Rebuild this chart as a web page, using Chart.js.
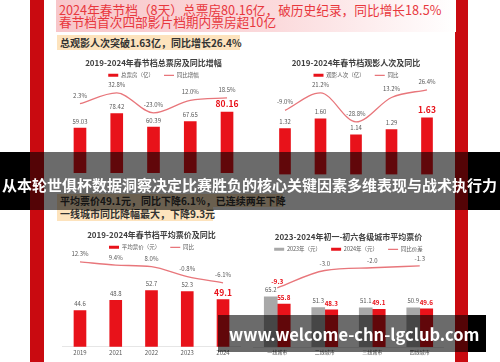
<!DOCTYPE html>
<html>
<head>
<meta charset="utf-8">
<script src="https://cdn.jsdelivr.net/npm/chart.js@4"></script>
<style>
  html, body { margin: 0; padding: 0; background: #fff; }
  body { width: 500px; height: 362px; position: relative; overflow: hidden; font-family: 'Noto Sans CJK SC', sans-serif; }
  .abs { position: absolute; white-space: nowrap; }
  .side { position: absolute; top: 0; height: 362px; background: #c90a10; }
  .box { position: absolute; }
  .hl { background: #fde3bd; color: #333; font-weight: bold; font-size: 10px; padding-left: 3px; box-sizing: border-box; }
  .band { position: absolute; z-index: 10; }
</style>
</head>
<body>
<div class="side" style="left:30px;width:14px;"></div>
<div class="side" style="left:455px;width:13px;"></div>

<div class="box" style="left:56px;top:0;width:400px;height:32px;background:linear-gradient(90deg,#f8c6ca 0%,#fbdadc 55%,#ffffff 100%);"></div>
<div class="abs" style="left:59px;top:4px;font-size:12.7px;line-height:12.4px;color:#e8373d;">2024年春节档（8天）总票房80.16亿，破历史纪录，同比增长18.5%<br>春节档首次四部影片档期内票房超10亿</div>
<div class="abs hl" style="left:57px;top:35px;width:183px;height:15px;line-height:15px;">总观影人次突破1.63亿，同比增长26.4%</div>

<div class="abs hl" style="left:57px;top:194px;width:226px;height:13px;line-height:13px;">平均票价49.1元，同比下降6.1%，已连续两年下降</div>
<div class="abs hl" style="left:57px;top:207px;width:156px;height:14px;line-height:14px;">一线城市同比降幅最大，下降9.3元</div>

<div class="box" style="left:52px;top:56px;width:204px;height:117px;"><canvas id="chartBox"></canvas></div>
<div class="box" style="left:257px;top:56px;width:198px;height:119px;"><canvas id="chartAdm"></canvas></div>
<div class="box" style="left:52px;top:228px;width:199px;height:130px;"><canvas id="chartPrice"></canvas></div>
<div class="box" style="left:243px;top:230px;width:211px;height:127px;"><canvas id="chartCity"></canvas></div>

<div class="band" style="left:0;top:152px;width:30px;height:58px;background:#000;"></div>
<div class="band" style="left:30px;top:152px;width:438px;height:58px;background:rgba(0,0,0,0.58);"></div>
<div class="band" style="left:468px;top:152px;width:32px;height:58px;background:#000;"></div>
<div class="band abs" style="left:2px;top:176px;font-size:15px;line-height:17px;font-weight:bold;color:#fff;">从本轮世俱杯数据洞察决定比赛胜负的核心关键因素多维表现与战术执行力</div>

<div class="band" style="left:218px;top:315px;width:250px;height:37px;background:rgba(0,0,0,0.58);"></div>
<div class="band" style="left:468px;top:315px;width:18px;height:37px;background:#000;"></div>
<div class="band abs" style="left:229px;top:324px;font-size:16.5px;line-height:20px;font-weight:bold;color:#fff;">www.welcome-chn-lgclub.com</div>

<script>
'use strict';

// Data
const years = ['2019', '2021', '2022', '2023', '2024'];
const boxOffice = [59.03, 78.42, 60.39, 67.65, 80.16];
const boxOfficeGrowth = [2.3, 32.8, -23.0, 12.0, 18.5];
const admissions = [1.32, 1.60, 1.14, 1.29, 1.63];
const admissionsGrowth = [-9.0, 21.2, -28.8, 13.2, 26.4];
const avgPrice = [44.6, 48.8, 52.7, 52.3, 49.1];
const avgPriceGrowth = [12.3, 9.4, 8.0, -0.8, -6.1];
const cityTiers = ['一线城市', '二线城市', '三线城市', '四线城市'];
const price2023 = [65.2, 51.3, 51.1, 50.9];
const price2024 = [55.8, 48.3, 49.1, 49.6];
const priceDiff = [-9.3, -3.0, -2.0, -1.3];

// Styles
const FONT = "'Noto Sans CJK SC', sans-serif";
const RED = '#e8121a';
const LINE_RED = '#e8767b';
const GREY_BAR = '#a8a8a8';
const TEXT = '#595959';

// Value labels over bars and points
const valueLabels = {
  id: 'valueLabels',
  afterDatasetsDraw(chart) {
    let ctx = chart.ctx;
    chart.data.datasets.forEach((ds, i) => {
      let meta = chart.getDatasetMeta(i);
      meta.data.forEach((el, j) => {
        let hot = ds.allHot || ds.hotIndex === j;
        let size = hot ? ds.hotSize : ds.labelSize;
        ctx.save();
        ctx.font = (hot ? 'bold ' : '') + size + 'px ' + FONT;
        ctx.fillStyle = hot ? RED : TEXT;
        ctx.textAlign = 'center';
        ctx.textBaseline = 'alphabetic';
        ctx.fillText(ds.fmt(ds.data[j]), el.x, el.y - (hot ? ds.hotGap : ds.labelGap));
        ctx.restore();
      });
    });
  }
};

function legendItems(chart) {
  let items = Chart.defaults.plugins.legend.labels.generateLabels(chart);
  items.forEach(item => {
    let ds = chart.data.datasets[item.datasetIndex];
    item.pointStyle = ds.type === 'line' ? 'line' : 'rect';
    if (ds.type === 'line') {
      item.strokeStyle = LINE_RED;
      item.lineWidth = 1.2;
    } else {
      item.lineWidth = 0;
    }
  });
  return items;
}

function makeOptions(title, pad, barRange, lineRange, xFont) {
  return {
    responsive: true,
    maintainAspectRatio: false,
    animation: false,
    layout: { padding: pad },
    plugins: {
      title: {
        display: true,
        text: title,
        color: '#404040',
        font: { family: FONT, size: 8, weight: 'bold', lineHeight: 1.2 },
        padding: { top: 2, bottom: -5 }
      },
      legend: {
        position: 'top',
        maxHeight: 22.2,
        labels: {
          color: TEXT,
          font: { family: FONT, size: 5.5 },
          usePointStyle: true,
          pointStyleWidth: 10,
          boxHeight: 3,
          padding: 10,
          generateLabels: legendItems
        }
      },
      tooltip: { enabled: false }
    },
    scales: {
      x: {
        display: xFont > 0,
        grid: { display: false, drawTicks: false },
        border: { display: true, color: '#e6e6e6', width: 1 },
        ticks: { color: TEXT, font: { family: FONT, size: xFont || 6 }, padding: 2 }
      },
      y: { display: false, min: barRange[0], max: barRange[1] },
      y1: { display: false, min: lineRange[0], max: lineRange[1] }
    }
  };
}

const pct = v => v.toFixed(1) + '%';

// 2019-2024 box office
new Chart(document.getElementById('chartBox'), {
  type: 'bar',
  data: {
    labels: years,
    datasets: [{
      label: '总票房（亿）', data: boxOffice, yAxisID: 'y',
      backgroundColor: RED, barThickness: 12,
      fmt: v => v.toFixed(2), labelSize: 6, labelGap: 4.5, hotIndex: 4, hotSize: 8.5, hotGap: 5.5
    }, {
      type: 'line', label: '同比增幅', data: boxOfficeGrowth, yAxisID: 'y1',
      borderColor: LINE_RED, backgroundColor: LINE_RED, borderWidth: 1.3, pointRadius: 0,
      cubicInterpolationMode: 'monotone',
      fmt: pct, labelSize: 6, labelGap: 6
    }]
  },
  options: makeOptions('2019-2024年春节档总票房及同比增幅', { left: 9.6, right: 10.6, top: 0, bottom: 0 }, [0, 116.2], [-190.7, 55.1], 0),
  plugins: [valueLabels]
});

// 2019-2024 admissions
new Chart(document.getElementById('chartAdm'), {
  type: 'bar',
  data: {
    labels: years,
    datasets: [{
      label: '观影人次（亿）', data: admissions, yAxisID: 'y',
      backgroundColor: RED, barThickness: 11,
      fmt: v => v.toFixed(2), labelSize: 6, labelGap: 4.5, hotIndex: 4, hotSize: 8.5, hotGap: 4.5
    }, {
      type: 'line', label: '同比', data: admissionsGrowth, yAxisID: 'y1',
      borderColor: LINE_RED, backgroundColor: LINE_RED, borderWidth: 1.3, pointRadius: 0,
      cubicInterpolationMode: 'monotone',
      fmt: pct, labelSize: 6, labelGap: 6
    }]
  },
  options: makeOptions('2019-2024年春节档观影人次及同比', { left: 10.25, right: 10.25, top: 0, bottom: 0.5 }, [0, 2.58], [-119.3, 35.0], 0),
  plugins: [valueLabels]
});

// 2019-2024 average ticket price
new Chart(document.getElementById('chartPrice'), {
  type: 'bar',
  data: {
    labels: years,
    datasets: [{
      label: '平均票价（元）', data: avgPrice, yAxisID: 'y',
      backgroundColor: RED, barThickness: 12,
      fmt: v => v.toFixed(1), labelSize: 6, labelGap: 4.5, hotIndex: 4, hotSize: 8.5, hotGap: 4
    }, {
      type: 'line', label: '同比', data: avgPriceGrowth, yAxisID: 'y1',
      borderColor: LINE_RED, backgroundColor: LINE_RED, borderWidth: 1.3, pointRadius: 0,
      cubicInterpolationMode: 'monotone',
      fmt: pct, labelSize: 6, labelGap: 5.5
    }]
  },
  options: makeOptions('2019-2024年春节档平均票价及同比', { left: 10.1, right: 10.1, top: 0, bottom: 0 }, [30, 66.4], [-62.3, 16.7], 6),
  plugins: [valueLabels]
});

// 2023 vs 2024 by city tier
new Chart(document.getElementById('chartCity'), {
  type: 'bar',
  data: {
    labels: cityTiers,
    datasets: [{
      label: '2023年（元）', data: price2023, yAxisID: 'y',
      backgroundColor: GREY_BAR, barThickness: 13,
      fmt: v => v.toFixed(1), labelSize: 6, labelGap: 4.5
    }, {
      label: '2024年（元）', data: price2024, yAxisID: 'y',
      backgroundColor: RED, barThickness: 13,
      fmt: v => v.toFixed(1), allHot: true, hotSize: 6.3, hotGap: 4
    }, {
      type: 'line', label: '同比价差', data: priceDiff, yAxisID: 'y1',
      borderColor: LINE_RED, backgroundColor: LINE_RED, borderWidth: 1.3, pointRadius: 0,
      cubicInterpolationMode: 'monotone',
      fmt: v => v.toFixed(1), labelSize: 6, labelGap: 5, hotIndex: 0, hotSize: 6.5, hotGap: 4
    }]
  },
  options: makeOptions('2023-2024年初一-初六各级城市平均票价', { left: 10.5, right: 10.5, top: 0, bottom: 0 }, [0, 114.7], [-30.75, 1.25], 5),
  plugins: [valueLabels]
});
</script>
</body>
</html>
